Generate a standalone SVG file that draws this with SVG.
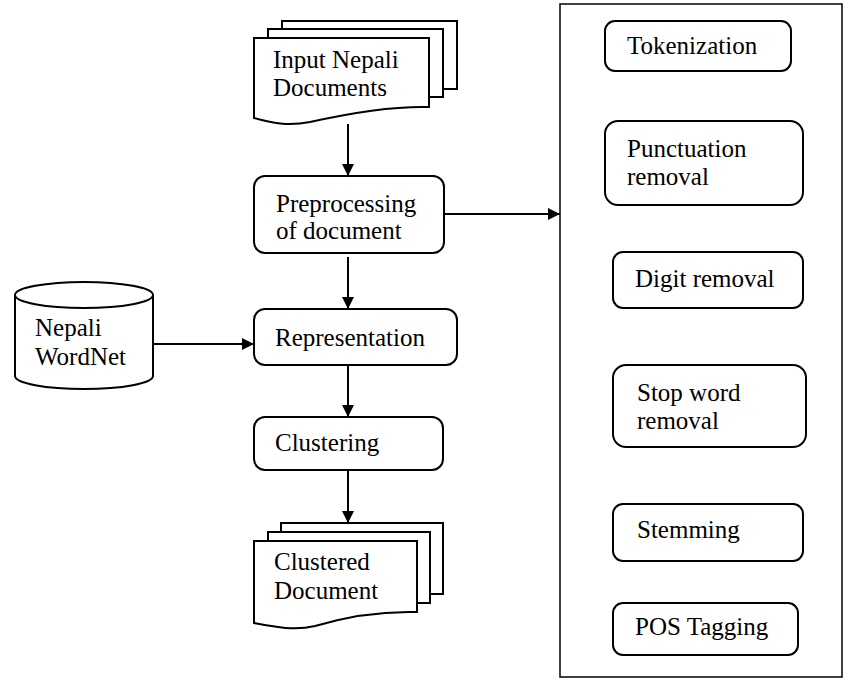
<svg xmlns="http://www.w3.org/2000/svg" width="845" height="688" viewBox="0 0 845 688">
<defs>
<style>
.n{fill:#fff;stroke:#000;stroke-width:2}
.t{font-family:"Liberation Serif","Times New Roman",serif;font-size:25px;fill:#000}
.c{stroke:#000;stroke-width:2;fill:none}
</style>
<marker id="ah" markerWidth="12" markerHeight="12" viewBox="0 0 12 12" refX="12" refY="6" orient="auto" markerUnits="userSpaceOnUse">
<path d="M0,0 L12,6 L0,12 Z" fill="#000"/>
</marker>
</defs>
<rect width="845" height="688" fill="#fff"/>
<g id="connectors">
<line class="c" x1="348" y1="124" x2="348" y2="176" marker-end="url(#ah)"/>
<line class="c" x1="348" y1="257" x2="348" y2="309" marker-end="url(#ah)"/>
<line class="c" x1="348" y1="366" x2="348" y2="417" marker-end="url(#ah)"/>
<line class="c" x1="348" y1="470" x2="348" y2="523" marker-end="url(#ah)"/>
<line class="c" x1="153" y1="344" x2="254" y2="344" marker-end="url(#ah)"/>
<line class="c" x1="444" y1="214" x2="560" y2="214" marker-end="url(#ah)"/>
</g>
<g id="input-docs">
<rect class="n" x="282" y="21" width="175" height="68"/>
<rect class="n" x="268" y="29" width="175" height="68"/>
<path class="n" d="M254,38 H429 V107 C390,106 350,113 310,122 C290,126 275,124 254,118 Z"/>
<text class="t" x="273" y="68">Input Nepali</text>
<text class="t" x="273" y="96">Documents</text>
</g>
<g id="preprocessing">
<rect class="n" x="254" y="176" width="190" height="77" rx="11"/>
<text class="t" x="276" y="212">Preprocessing</text>
<text class="t" x="276" y="239">of document</text>
</g>
<g id="wordnet">
<path class="n" d="M15,295 V376 A69,13 0 0 0 153,376 V295"/>
<ellipse class="n" cx="84" cy="295" rx="69" ry="13"/>
<text class="t" x="35" y="336">Nepali</text>
<text class="t" x="35" y="365">WordNet</text>
</g>
<g id="representation">
<rect class="n" x="254" y="309" width="203" height="56" rx="11"/>
<text class="t" x="275" y="346">Representation</text>
</g>
<g id="clustering">
<rect class="n" x="254" y="417" width="189" height="53" rx="11"/>
<text class="t" x="275" y="451">Clustering</text>
</g>
<g id="clustered-docs">
<rect class="n" x="281" y="523" width="162" height="71"/>
<rect class="n" x="268" y="532" width="162" height="71"/>
<path class="n" d="M254,541 H417 V612 C380,611 345,617 315,626 C295,631 275,627 254,623 Z"/>
<text class="t" x="274" y="570">Clustered</text>
<text class="t" x="274" y="599">Document</text>
</g>
<g id="preprocessing-steps">
<rect x="560" y="4" width="282" height="673" fill="none" stroke="#000" stroke-width="1.5"/>
</g>
<g id="tokenization">
<rect class="n" x="605" y="21" width="186" height="50" rx="10"/>
<text class="t" x="627" y="54">Tokenization</text>
</g>
<g id="punctuation">
<rect class="n" x="605" y="121" width="198" height="84" rx="13"/>
<text class="t" x="627" y="157">Punctuation</text>
<text class="t" x="627" y="185">removal</text>
</g>
<g id="digit">
<rect class="n" x="613" y="252" width="190" height="56" rx="10"/>
<text class="t" x="635" y="287">Digit removal</text>
</g>
<g id="stopword">
<rect class="n" x="613" y="365" width="193" height="82" rx="13"/>
<text class="t" x="637" y="401">Stop word</text>
<text class="t" x="637" y="429">removal</text>
</g>
<g id="stemming">
<rect class="n" x="613" y="504" width="190" height="57" rx="10"/>
<text class="t" x="637" y="538">Stemming</text>
</g>
<g id="pos">
<rect class="n" x="613" y="603" width="185" height="52" rx="10"/>
<text class="t" x="635" y="635">POS Tagging</text>
</g>
</svg>
